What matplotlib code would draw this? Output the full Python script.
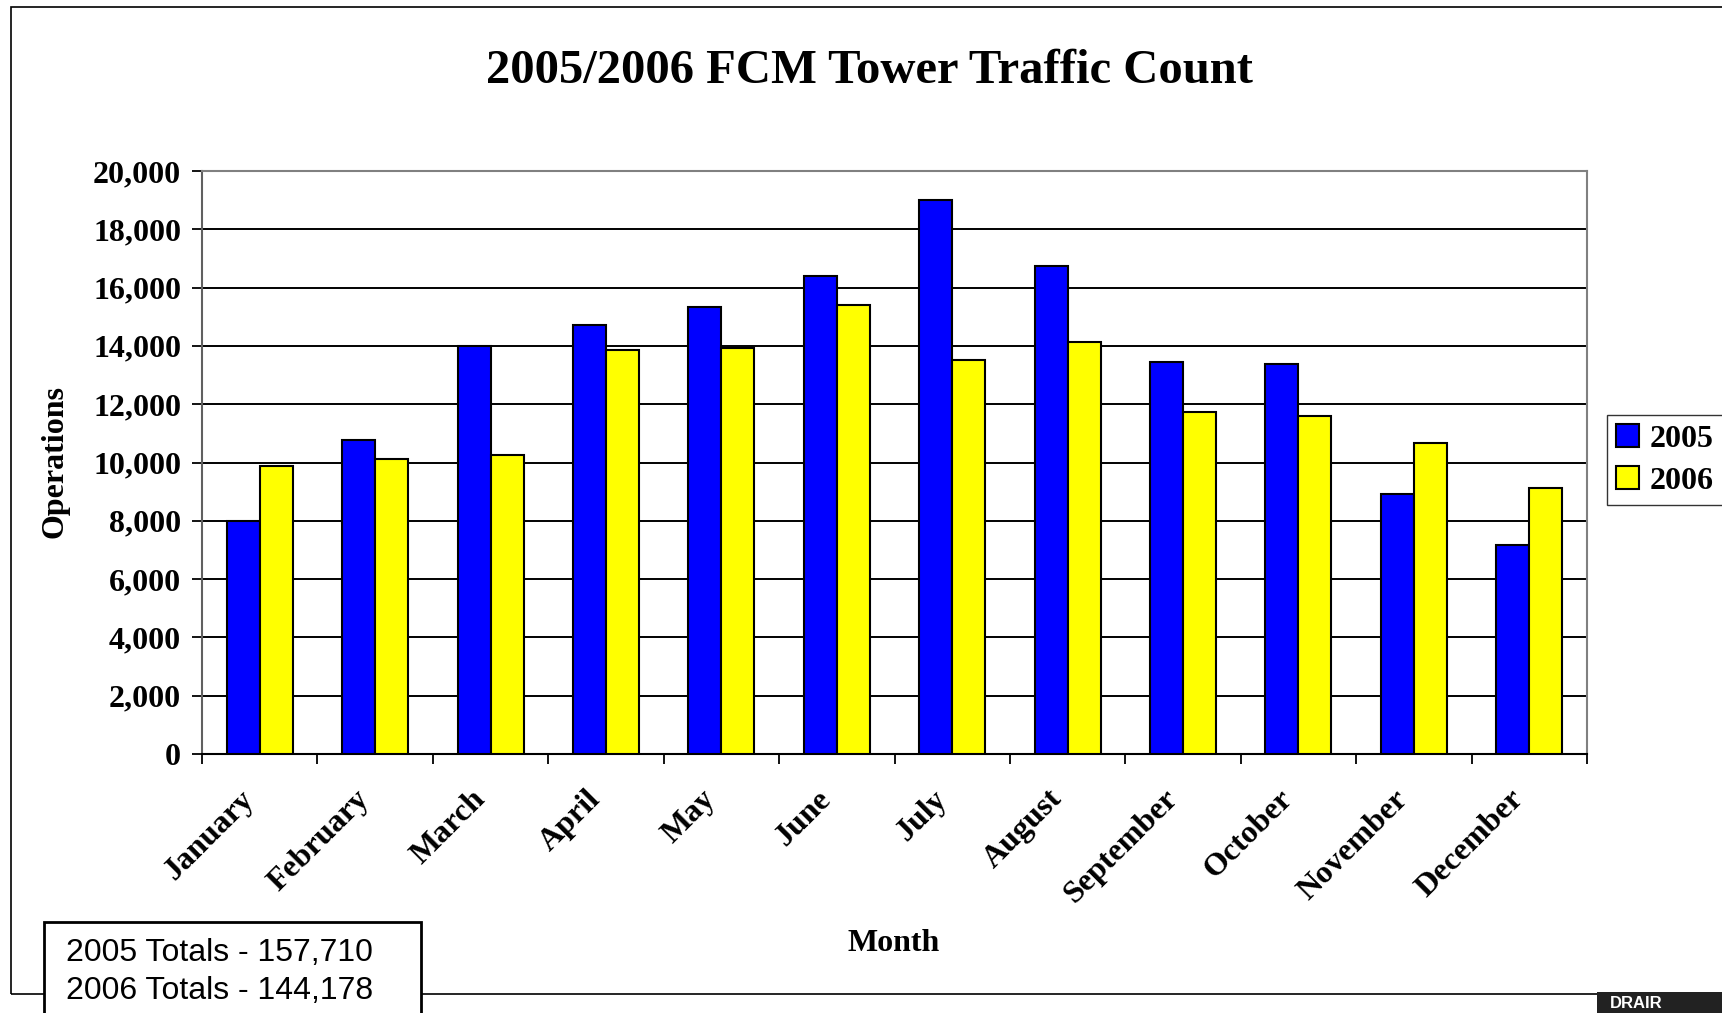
import numpy as np
from matplotlib import pyplot as plt
from matplotlib.patches import Rectangle
from matplotlib.ticker import FuncFormatter
from matplotlib.transforms import ScaledTranslation

months = ['January', 'February', 'March', 'April', 'May', 'June', 'July',
          'August', 'September', 'October', 'November', 'December']
ops_2005 = [7990, 10760, 14000, 14710, 15350, 16400, 19000, 16750, 13440, 13380, 8930, 7170]
ops_2006 = [9890, 10120, 10260, 13850, 13920, 15400, 13510, 14130, 11740, 11610, 10680, 9140]
totals = ['2005 Totals - 157,710', '2006 Totals - 144,178']

W, H = 1722, 1013
serif = 'Liberation Serif'

fig = plt.figure(figsize=(W / 100, H / 100), dpi=100)
ax = fig.add_axes([202 / W, 1 - 754 / H, (1587 - 202) / W, (754 - 171) / H])

x = np.arange(len(months))
bw = 0.2857
ax.bar(x - bw / 2, ops_2005, bw, color='#0000FF', edgecolor='black', linewidth=1.5,
       label='2005', zorder=3)
ax.bar(x + bw / 2, ops_2006, bw, color='#FFFF00', edgecolor='black', linewidth=1.5,
       label='2006', zorder=3)

ax.set_xlim(-0.5, 11.5)
ax.set_ylim(0, 20000)
ax.set_yticks(range(0, 20001, 2000))
ax.yaxis.set_major_formatter(FuncFormatter(lambda v, p: f'{int(v):,}'))
ax.grid(axis='y', color='black', linewidth=1.4, zorder=0)

ax.set_xticks(x)
ax.set_xticklabels(months, rotation=45, ha='right', rotation_mode='anchor',
                   fontfamily=serif, fontweight='bold', fontsize=23)
ax.tick_params(axis='x', length=0, pad=22)
shift = ScaledTranslation(-0.2, 0, fig.dpi_scale_trans)
for lab in ax.get_xticklabels():
    lab.set_transform(lab.get_transform() + shift)
ax.set_xticks(np.arange(-0.5, 12, 1), minor=True)
ax.tick_params(axis='x', which='minor', length=7, width=1.3, color='black', direction='out')
ax.tick_params(axis='y', length=7, width=1.3, direction='out', pad=8)
for lab in ax.get_yticklabels():
    lab.set_fontfamily(serif)
    lab.set_fontweight('bold')
    lab.set_fontsize(23)

for s in ['top', 'right']:
    ax.spines[s].set_color('#808080')
    ax.spines[s].set_linewidth(1.5)
ax.spines['left'].set_color('#606060')
ax.spines['left'].set_linewidth(1.5)
ax.spines['bottom'].set_color('black')
ax.spines['bottom'].set_linewidth(1.5)

fig.text(869 / W, 1 - 71 / H, '2005/2006 FCM Tower Traffic Count', ha='center', va='center',
         fontfamily=serif, fontweight='bold', fontsize=35)
fig.text(894 / W, 1 - 943 / H, 'Month', ha='center', va='center',
         fontfamily=serif, fontweight='bold', fontsize=23)
fig.text(55 / W, 1 - 461 / H, 'Operations', ha='center', va='center', rotation=90,
         fontfamily=serif, fontweight='bold', fontsize=23)

leg = fig.legend(loc='center', bbox_to_anchor=(1665 / W, 1 - 460 / H),
                 prop={'family': serif, 'weight': 'bold', 'size': 23},
                 frameon=True, fancybox=False, edgecolor='black', handlelength=0.7,
                 handleheight=0.7, handletextpad=0.35, borderpad=0.3, labelspacing=0.4,
                 borderaxespad=0)
leg.get_frame().set_linewidth(1.0)

# outer chart frame
fig.patches.append(Rectangle((11 / W, 1 - 994 / H), 1.1, (994 - 7) / H, transform=fig.transFigure,
                             fill=False, edgecolor='black', linewidth=1.2, zorder=0))

# totals box
fig.patches.append(Rectangle((44 / W, -0.05), (421 - 44) / W, 0.05 + 1 - 922 / H,
                             transform=fig.transFigure, facecolor='white', edgecolor='black',
                             linewidth=2, zorder=5))
fig.text(66 / W, 1 - 953 / H, totals[0], ha='left', va='center', fontfamily='Liberation Sans',
         fontsize=23, zorder=6)
fig.text(66 / W, 1 - 991 / H, totals[1], ha='left', va='center', fontfamily='Liberation Sans',
         fontsize=23, zorder=6)

# partial logo at corner
fig.patches.append(Rectangle((1597 / W, -0.05), 0.2, 0.05 + 1 - 992 / H, transform=fig.transFigure,
                             facecolor='#222222', edgecolor='none', zorder=5))
fig.text(1610 / W, 1 - 1003 / H, 'DRAIR', ha='left', va='center', color='white',
         fontfamily='Liberation Sans', fontweight='bold', fontsize=12, zorder=6)

fig.savefig('out.png', dpi=100, facecolor='white')
